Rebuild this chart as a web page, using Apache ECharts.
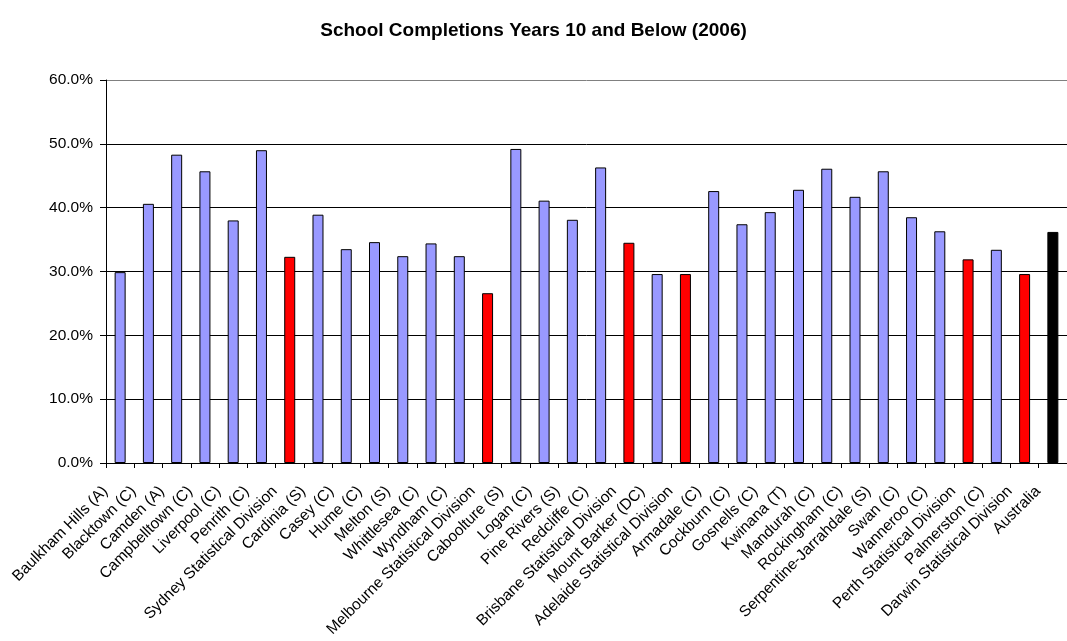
<!DOCTYPE html>
<html>
<head>
<meta charset="utf-8">
<script src="https://cdn.jsdelivr.net/npm/echarts/dist/echarts.min.js"></script>
<style>
html, body { margin: 0; padding: 0; background: #fff; }
#chart { width: 1067px; height: 641px; }
</style>
</head>
<body>
<div id="chart"></div>
<script>
const titleText = 'School Completions Years 10 and Below (2006)';
const categories = [
  'Baulkham Hills (A)', 'Blacktown (C)', 'Camden (A)', 'Campbelltown (C)', 'Liverpool (C)', 'Penrith (C)',
  'Sydney Statistical Division', 'Cardinia (S)', 'Casey (C)', 'Hume (C)', 'Melton (S)', 'Whittlesea (C)',
  'Wyndham (C)', 'Melbourne Statistical Division', 'Caboolture (S)', 'Logan (C)', 'Pine Rivers (S)',
  'Redcliffe (C)', 'Brisbane Statistical Division', 'Mount Barker (DC)', 'Adelaide Statistical Division',
  'Armadale (C)', 'Cockburn (C)', 'Gosnells (C)', 'Kwinana (T)', 'Mandurah (C)', 'Rockingham (C)',
  'Serpentine-Jarrahdale (S)', 'Swan (C)', 'Wanneroo (C)', 'Perth Statistical Division', 'Palmerston (C)',
  'Darwin Statistical Division', 'Australia'
];
const values = [
  29.9, 40.6, 48.3, 45.7, 38.0, 49.0,
  32.3, 38.9, 33.5, 34.6, 32.4, 34.4,
  32.4, 26.6, 49.2, 41.1, 38.1,
  46.3, 34.5, 29.6, 29.6,
  42.6, 37.4, 39.3, 42.8, 46.1, 41.7,
  45.7, 38.5, 36.3, 31.9, 33.4,
  29.6, 36.2
];
// area kind: 'lga' = local area, 'sd' = statistical division, 'aus' = national
const kinds = [
  'lga','lga','lga','lga','lga','lga',
  'sd','lga','lga','lga','lga','lga',
  'lga','sd','lga','lga','lga',
  'lga','sd','lga','sd',
  'lga','lga','lga','lga','lga','lga',
  'lga','lga','lga','sd','lga',
  'sd','aus'
];
const yTicks = [0, 10, 20, 30, 40, 50, 60];

const kindColor = { lga: '#9999FF', sd: '#FF0000', aus: '#000000' };
const font = '"Liberation Sans", Arial, sans-serif';

const chart = echarts.init(document.getElementById('chart'), null, { renderer: 'canvas' });
chart.setOption({
  animation: false,
  backgroundColor: '#ffffff',
  title: {
    text: titleText,
    left: 'center',
    top: 16,
    textStyle: { fontFamily: font, fontSize: 19, fontWeight: 'bold', color: '#000' }
  },
  grid: { left: 106, top: 80, width: 970, height: 383, containLabel: false },
  xAxis: {
    type: 'category',
    data: categories,
    boundaryGap: true,
    axisLine: { show: true, lineStyle: { color: '#000', width: 1 } },
    axisTick: { show: true, length: 5, inside: false, lineStyle: { color: '#000' } },
    axisLabel: {
      interval: 0,
      rotate: 45,
      margin: 11,
      padding: [0, 21, 0, 0],
      fontFamily: font,
      fontSize: 15.5,
      color: '#000',
      hideOverlap: false
    },
    splitLine: { show: false }
  },
  yAxis: {
    type: 'value',
    min: yTicks[0],
    max: yTicks[yTicks.length - 1],
    interval: 10,
    axisLine: { show: true, lineStyle: { color: '#000', width: 1 } },
    axisTick: { show: true, length: 6, inside: false, lineStyle: { color: '#000' } },
    axisLabel: {
      margin: 13,
      fontFamily: font,
      fontSize: 15.5,
      color: '#000',
      formatter: v => v.toFixed(1) + '%'
    },
    splitLine: { show: true, lineStyle: { color: ['#000', '#000', '#000', '#000', '#000', '#000', '#808080'], width: 1 } }
  },
  series: [{
    type: 'bar',
    barWidth: 11,
    data: values.map((v, i) => ({
      value: v,
      itemStyle: { color: kindColor[kinds[i]], borderColor: '#000', borderWidth: 1 }
    }))
  }]
});
</script>
</body>
</html>
